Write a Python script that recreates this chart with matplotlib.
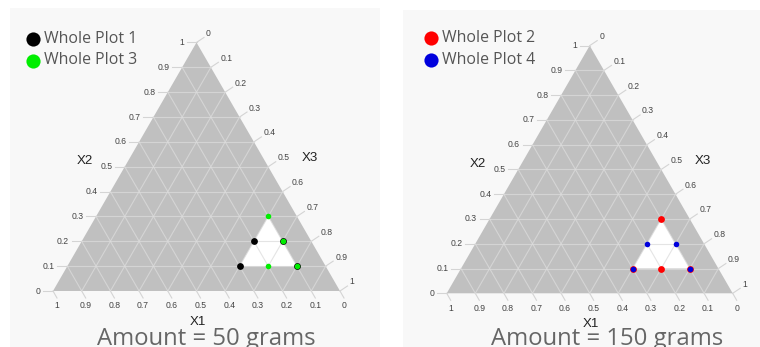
import numpy as np
import matplotlib
matplotlib.use("Agg")
import matplotlib.pyplot as plt

# ---------------- data ----------------
tick_values = [0.0, 0.1, 0.2, 0.3, 0.4, 0.5, 0.6, 0.7, 0.8, 0.9, 1.0]
tick_labels = ["0", "0.1", "0.2", "0.3", "0.4", "0.5", "0.6", "0.7", "0.8", "0.9", "1"]
grid_values = [0.1, 0.2, 0.3, 0.4, 0.5, 0.6, 0.7, 0.8, 0.9]

# lower bounds of the feasible (white) region
x1_min, x2_min, x3_min = 0.1, 0.1, 0.6

panel_titles = ["Amount = 50 grams", "Amount = 150 grams"]

wp1_name, wp1_color = "Whole Plot 1", "#000000"
wp1_x1 = [0.3, 0.2, 0.1, 0.1]
wp1_x2 = [0.1, 0.2, 0.1, 0.2]
wp1_x3 = [0.6, 0.6, 0.8, 0.7]

wp3_name, wp3_color = "Whole Plot 3", "#00ee00"
wp3_x1 = [0.2, 0.1, 0.1, 0.1]
wp3_x2 = [0.1, 0.3, 0.1, 0.2]
wp3_x3 = [0.7, 0.6, 0.8, 0.7]

wp2_name, wp2_color = "Whole Plot 2", "#ff0000"
wp2_x1 = [0.3, 0.2, 0.1, 0.1]
wp2_x2 = [0.1, 0.1, 0.1, 0.3]
wp2_x3 = [0.6, 0.7, 0.8, 0.6]

wp4_name, wp4_color = "Whole Plot 4", "#0000dd"
wp4_x1 = [0.3, 0.1, 0.2, 0.1]
wp4_x2 = [0.1, 0.1, 0.2, 0.2]
wp4_x3 = [0.6, 0.8, 0.6, 0.7]

# ---------------- layout ----------------
W, H = 760, 347
S3 = np.sqrt(3) / 2

def cart(x1, x2, x3):
    x1 = np.asarray(x1, float); x2 = np.asarray(x2, float); x3 = np.asarray(x3, float)
    tot = x1 + x2 + x3
    return (x3 + x2 / 2) / tot, (x2 * S3) / tot

panels = [
    dict(rect=(10, 8, 380, 347), origin=(53, 291), side=287, legend=(33, 39),
         title=panel_titles[0],
         series=[(wp1_name, wp1_color, wp1_x1, wp1_x2, wp1_x3, 4.9),
                 (wp3_name, wp3_color, wp3_x1, wp3_x2, wp3_x3, 4.0)]),
    dict(rect=(403, 10, 760, 347), origin=(446.7, 293.3), side=286, legend=(431, 38),
         title=panel_titles[1],
         series=[(wp2_name, wp2_color, wp2_x1, wp2_x2, wp2_x3, 4.9),
                 (wp4_name, wp4_color, wp4_x1, wp4_x2, wp4_x3, 4.0)]),
]

fig = plt.figure(figsize=(W / 100, H / 100), dpi=100)
fig.patch.set_facecolor("white")

tick_font = dict(family=["Liberation Sans", "DejaVu Sans"], size=6.2, color="#444444")
axis_font = dict(family=["Liberation Sans", "DejaVu Sans"], size=9.5, color="#222222")
leg_font = dict(family=["Open Sans", "DejaVu Sans"], size=11.4, color="#555555")
title_font = dict(family=["Open Sans", "DejaVu Sans"], size=17.2, color="#666666")

GRID_C = "#dcdcdc"
TICK_C = "#d4d4d4"

for p in panels:
    L, T, R, B = p["rect"]
    ox, oy = p["origin"]
    s = p["side"]
    ax = fig.add_axes([L / W, (H - B) / H, (R - L) / W, (B - T) / H])
    ax.set_xlim((L - ox) / s, (R - ox) / s)
    ax.set_ylim((oy - B) / s, (oy - T) / s)
    ax.set_xticks([]); ax.set_yticks([])
    for sp in ax.spines.values():
        sp.set_visible(False)
    ax.set_facecolor("#f8f8f8")
    u = 1.0 / s  # one pixel in data units

    def P(px, py, _ox=ox, _oy=oy, _s=s):
        return (px - _ox) / _s, (_oy - py) / _s

    # triangle background
    tx, ty = cart([1, 0, 0], [0, 1, 0], [0, 0, 1])
    ax.fill(tx, ty, color="#c0c0c0", lw=0, zorder=1)

    # feasible region
    rx, ry = cart([1 - x2_min - x3_min, x1_min, x1_min],
                  [x2_min, x2_min, 1 - x1_min - x3_min],
                  [x3_min, 1 - x1_min - x2_min, x3_min])
    ax.fill(rx, ry, color="white", lw=0, zorder=2)

    # grid lines
    for v in grid_values:
        for a, b in [
            (cart(1 - v, v, 0), cart(0, v, 1 - v)),      # X2 const
            (cart(v, 1 - v, 0), cart(v, 0, 1 - v)),      # X1 const
            (cart(1 - v, 0, v), cart(0, 1 - v, v)),      # X3 const
        ]:
            ax.plot([a[0], b[0]], [a[1], b[1]], color=GRID_C, alpha=0.75, lw=0.8, zorder=3)

    # ticks and tick labels
    for v, lab in zip(tick_values, tick_labels):
        # left axis (X2)
        ex, ey = cart(1 - v, v, 0)
        ax.plot([ex, ex - 10 * u], [ey, ey], color=TICK_C, lw=0.8, zorder=1)
        ax.text(ex - 12.5 * u, ey, lab, ha="right", va="center", **tick_font)
        # bottom axis (X1)
        ex, ey = cart(v, 0, 1 - v)
        ax.plot([ex, ex + 4 * u], [ey, ey - 7 * u], color=TICK_C, lw=0.8, zorder=1)
        ax.text(ex + 4 * u, ey - 15 * u, lab, ha="center", va="center", **tick_font)
        # right axis (X3)
        ex, ey = cart(0, 1 - v, v)
        ax.plot([ex, ex + 7.5 * u], [ey, ey + 5 * u], color=TICK_C, lw=0.8, zorder=1)
        ax.text(ex + 9.5 * u, ey + 9 * u, lab, ha="left", va="center", **tick_font)

    # axis titles
    ax.text(0.11, 0.452, "X2", ha="center", va="center", **axis_font)
    ax.text(0.895, 0.462, "X3", ha="center", va="center", **axis_font)
    ax.text(0.505, -0.107, "X1", ha="center", va="center", **axis_font)

    # panel title
    tx0, ty0 = P(ox + 44, 345)
    ax.text(tx0, ty0, p["title"], ha="left", va="baseline", **title_font)

    # points
    for name, col, a1, a2, a3, ms in p["series"]:
        px_, py_ = cart(a1, a2, a3)
        ax.plot(px_, py_, "o", color=col, ms=ms, mew=0, zorder=5, clip_on=False)

    # legend
    lx, ly = p["legend"]
    for i, (name, col, *_rest) in enumerate(p["series"]):
        mx, my = P(lx, ly + 21.5 * i)
        ax.plot([mx], [my], "o", color=col, ms=10.2, mew=0, zorder=6)
        ax.text(mx + 11 * u, my, name, ha="left", va="center", **leg_font)

fig.savefig("out.png", dpi=100, facecolor="white")
